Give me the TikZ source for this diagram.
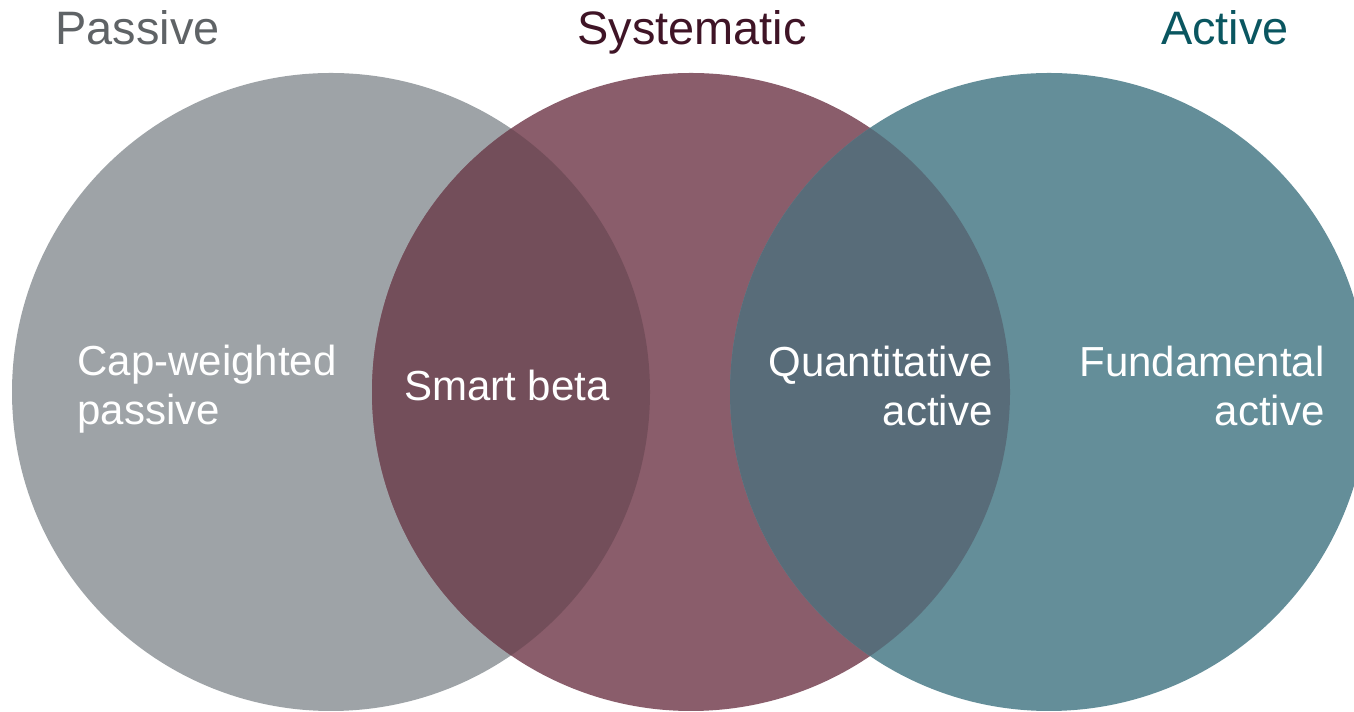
\documentclass[tikz,border=0pt]{standalone}
\usepackage{fontspec}
\setmainfont{Liberation Sans}
\definecolor{passivegrey}{HTML}{9EA3A7}
\definecolor{systmauve}{HTML}{8A5D6B}
\definecolor{activeteal}{HTML}{648E99}
\definecolor{smartlens}{HTML}{734E5A}
\definecolor{quantlens}{HTML}{586C79}
\definecolor{passivetxt}{HTML}{5F6366}
\definecolor{systtxt}{HTML}{3F1426}
\definecolor{activetxt}{HTML}{0A5660}
\begin{document}
\begin{tikzpicture}[x=0.02cm, y=0.02cm,
	heading/.style={font=\fontsize{26.7}{32}\selectfont},
	inner/.style={text=white, font=\fontsize{23.9}{27.9}\selectfont}]
	\useasboundingbox (0,0) rectangle (1354,712);
	\clip (0,0) rectangle (1354,712);
	% circle centres
	\coordinate (P) at (331,320);
	\coordinate (S) at (691,320);
	\coordinate (A) at (1049,320);
	\fill[passivegrey] (P) circle (319);
	\fill[systmauve] (S) circle (319);
	\fill[activeteal] (A) circle (319);
	% overlaps
	\begin{scope}
		\clip (P) circle (319);
		\fill[smartlens] (S) circle (319);
	\end{scope}
	\begin{scope}
		\clip (S) circle (319);
		\fill[quantlens] (A) circle (319);
	\end{scope}
	% headings
	\node[heading, text=passivetxt, anchor=base west, inner sep=0] (passive) at (55,667) {Passive};
	\node[heading, text=systtxt, anchor=base, inner sep=0] (systematic) at (692,667) {Systematic};
	\node[heading, text=activetxt, anchor=base, inner sep=0] (active) at (1225,667) {Active};
	% labels inside
	\node[inner, align=left, anchor=west, inner sep=0] (capw) at (77,323) {Cap-weighted\\passive};
	\node[inner, anchor=base west, inner sep=0] (smart) at (404,311) {Smart beta};
	\node[inner, align=right, anchor=east, inner sep=0] (quant) at (993,326) {Quantitative\\active};
	\node[inner, align=right, anchor=east, inner sep=0] (fund) at (1325,326) {Fundamental\\active};
\end{tikzpicture}
\end{document}
